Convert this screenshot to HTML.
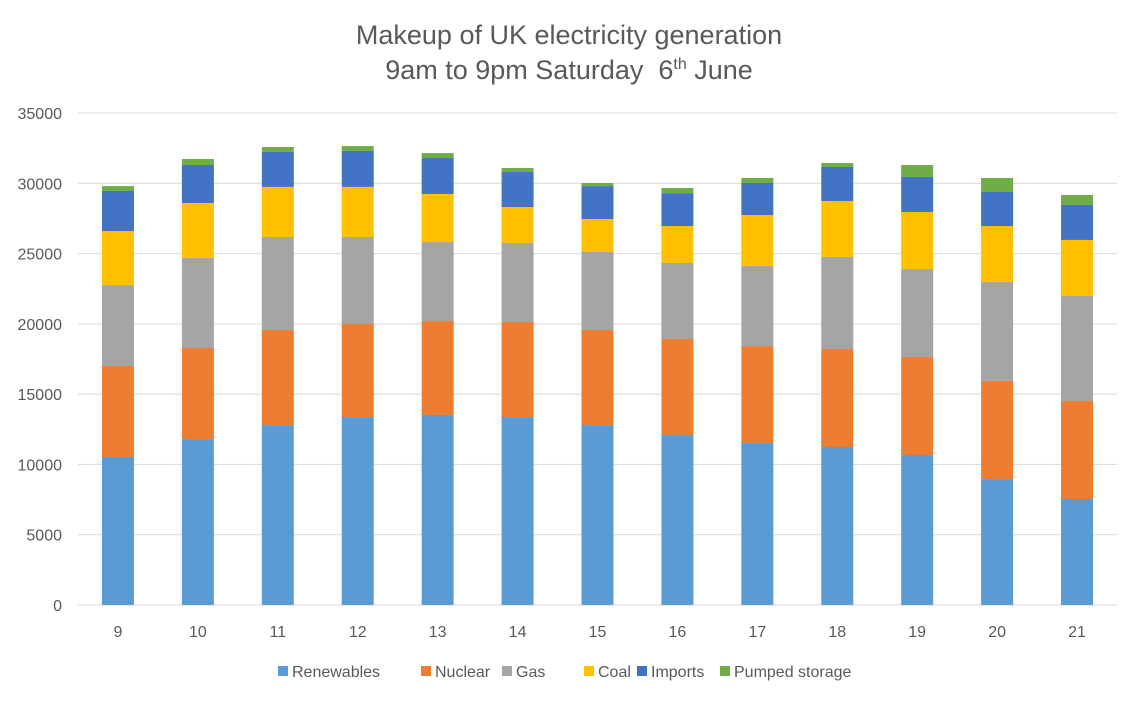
<!DOCTYPE html>
<html><head><meta charset="utf-8"><style>
body{margin:0;background:#fff;}
svg{display:block;font-family:"Liberation Sans",sans-serif;}
</style></head><body>
<svg id="chart" width="1139" height="702" viewBox="0 0 1139 702">
<rect width="1139" height="702" fill="#fff"/>
<text x="569" y="44" text-anchor="middle" font-size="27" fill="#595959">Makeup of UK electricity generation</text>
<text x="569" y="79" text-anchor="middle" font-size="27" fill="#595959">9am to 9pm Saturday &#160;6<tspan font-size="16" dy="-10">th</tspan><tspan dy="10"> June</tspan></text>
<g id="grid"></g><g id="bars"></g><g id="xlabels"></g>
<g id="legend"></g>
</svg>
<script>
const categories=["9","10","11","12","13","14","15","16","17","18","19","20","21"];
const seriesNames=["Renewables","Nuclear","Gas","Coal","Imports","Pumped storage"];
const renewables=[10530,11800,12800,13370,13520,13370,12800,12090,11520,11240,10670,8960,7540];
const nuclear=[6470,6480,6760,6620,6680,6760,6760,6830,6900,6970,6970,6980,6970];
const gas=[5760,6410,6620,6190,5620,5620,5550,5410,5700,6550,6260,7040,7470];
const coal=[3840,3910,3560,3560,3420,2560,2350,2630,3620,3980,4060,3980,3990];
const imports=[2850,2700,2490,2560,2560,2490,2340,2340,2280,2420,2490,2420,2490];
const pumped=[350,430,350,350,350,290,220,360,360,280,850,1000,710];
const yTicks=[0,5000,10000,15000,20000,25000,30000,35000];
const colors=["#5b9bd5","#ed7d31","#a5a5a5","#ffc000","#4472c4","#70ad47"];
const NS="http://www.w3.org/2000/svg";
const y0=605,yMax=35000,yTop=113,xL=78,xR=1117;
const y=v=>y0-(v/yMax)*(y0-yTop);
const step=(xR-xL)/categories.length;
const xc=i=>xL+step*(i+0.5);
const bw=32;
function mk(t,a,p){const e=document.createElementNS(NS,t);for(const k in a)e.setAttribute(k,a[k]);p.appendChild(e);return e;}
const grid=document.getElementById('grid');
yTicks.forEach(t=>{
 const l=mk('line',{x1:xL,x2:xR,y1:y(t),y2:y(t),stroke:'#d9d9d9','stroke-width':1},grid);
 
 
 const tx=mk('text',{x:62,y:y(t)+6,'text-anchor':'end','font-size':16,fill:'#595959'},grid);
 tx.textContent=t;
 
 
});
const all=[renewables,nuclear,gas,coal,imports,pumped];
const bars=document.getElementById('bars');
categories.forEach((c,i)=>{
 let cum=0;
 all.forEach((s,k)=>{
  const v=s[i];
  const r=mk('rect',{x:xc(i)-bw/2,y:y(cum+v),width:bw,height:y(cum)-y(cum+v),fill:colors[k]},bars);
  
  
  cum+=v;
 });
 const tx=mk('text',{x:xc(i),y:637,'text-anchor':'middle','font-size':16,fill:'#595959'},document.getElementById('xlabels'));
 tx.textContent=c;
 
 
});
const legX=[278,421,502,584,637,720];
const lg=document.getElementById('legend');
seriesNames.forEach((n,k)=>{
 const g=mk('g',{},lg);
 
 
 mk('rect',{x:legX[k],y:666,width:10,height:10,fill:colors[k]},g);
 const t=mk('text',{x:legX[k]+14,y:677,'font-size':16,fill:'#595959'},g);
 t.textContent=n;
});
</script>
</body></html>
